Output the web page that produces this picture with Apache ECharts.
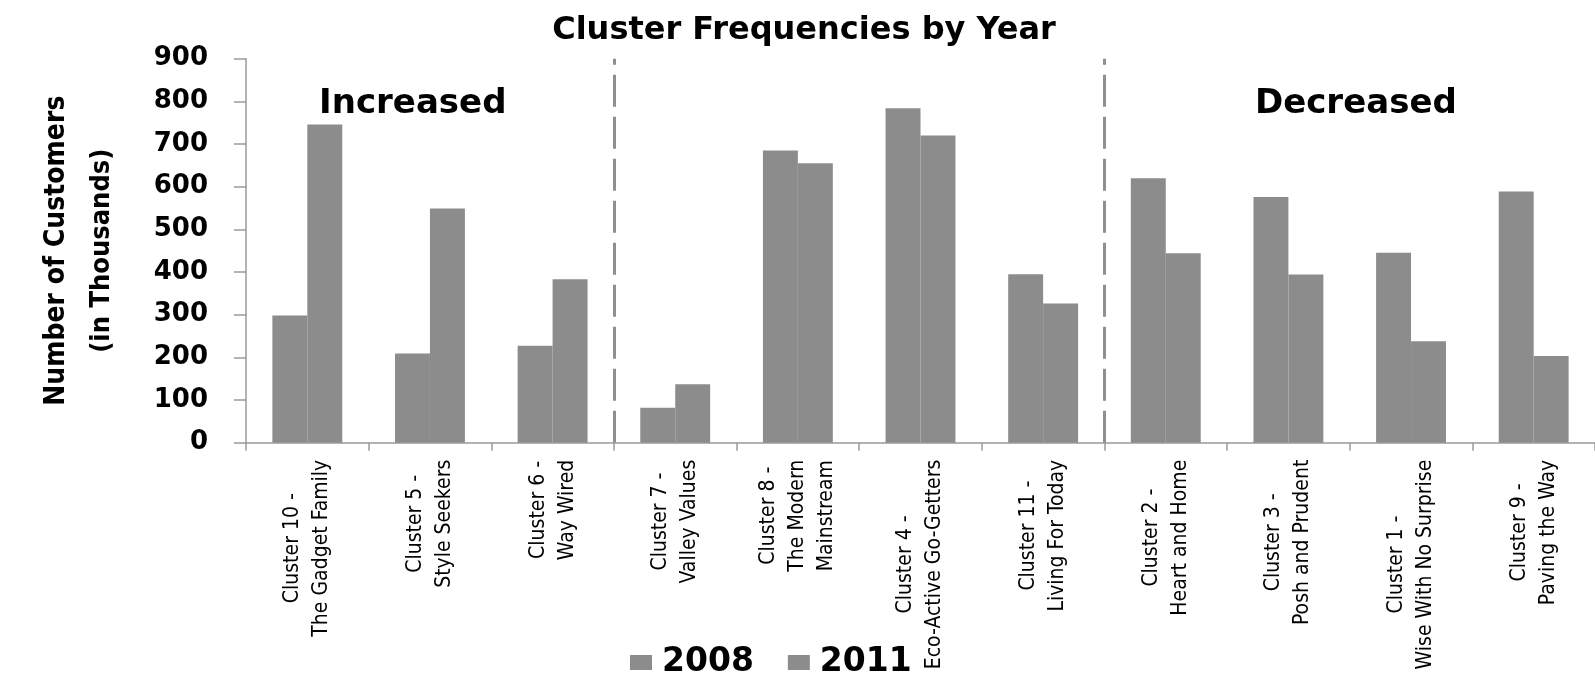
<!DOCTYPE html>
<html>
<head>
<meta charset="utf-8">
<script src="https://cdn.jsdelivr.net/npm/echarts@6/dist/echarts.min.js"></script>
<style>
  html, body { margin: 0; padding: 0; background: #ffffff; }
  #chart { width: 1595px; height: 686px; }
</style>
</head>
<body>
<div id="chart"></div>
<script>
// Customer segments, in the order they appear along the axis
const categories = [
  'Cluster 10 -\nThe Gadget Family',
  'Cluster 5 -\nStyle Seekers',
  'Cluster 6 -\nWay Wired',
  'Cluster 7 -\nValley Values',
  'Cluster 8 -\nThe Modern\nMainstream',
  'Cluster 4 -\nEco-Active Go-Getters',
  'Cluster 11 -\nLiving For Today',
  'Cluster 2 -\nHeart and Home',
  'Cluster 3 -\nPosh and Prudent',
  'Cluster 1 -\nWise With No Surprise',
  'Cluster 9 -\nPaving the Way'
];

// Number of customers (thousands)
const values2008 = [298, 209, 227, 82, 685, 784, 395, 620, 576, 445, 589];
const values2011 = [746, 549, 383, 137, 655, 720, 326, 444, 394, 238, 203];

const seriesNames = ['2008', '2011'];
const yTicks = [0, 100, 200, 300, 400, 500, 600, 700, 800, 900];

// Dashed separators sit on these category boundaries
const groupBreaks = [3, 7];
const groupLabels = ['Increased', 'Decreased'];

const BAR_COLOR = '#8c8c8c';
const AXIS_COLOR = '#9a9a9a';
const BOLD_FONT = "'DejaVu Sans', Verdana, sans-serif";
const NARROW_FONT = "'Liberation Sans Narrow', 'DejaVu Sans Condensed', 'Arial Narrow', sans-serif";

const chart = echarts.init(document.getElementById('chart'), null, { renderer: 'canvas' });

const option = {
  backgroundColor: '#ffffff',
  animation: false,
  title: {
    text: 'Cluster Frequencies by Year',
    left: 799,
    top: 10,
    textAlign: 'center',
    textStyle: { fontFamily: BOLD_FONT, fontWeight: 'bold', fontSize: 32, color: '#000' }
  },
  legend: {
    data: seriesNames,
    left: 625,
    top: 641,
    itemWidth: 22,
    itemHeight: 15,
    itemGap: 34,
    icon: 'rect',
    textStyle: {
      fontFamily: BOLD_FONT, fontWeight: 'bold', fontSize: 33, color: '#000',
      padding: [0, 0, 0, 5]
    }
  },
  grid: { left: 246, top: 58.7, width: 1354, height: 384, containLabel: false },
  xAxis: [
    {
      type: 'category',
      data: categories,
      axisLine: { lineStyle: { color: AXIS_COLOR, width: 1.5 } },
      axisTick: { show: true, alignWithLabel: false, length: 8, lineStyle: { color: AXIS_COLOR, width: 1.5 } },
      axisLabel: {
        interval: 0,
        rotate: 90,
        margin: 17,
        formatter: v => v.split('\n').map(s => '{c|' + s + '}').join('\n'),
        rich: {
          c: { align: 'center', fontFamily: NARROW_FONT, fontSize: 21, lineHeight: 29, color: '#000' }
        }
      }
    },
    {
      // helper value axis spanning the same width, used to place separators and group captions
      type: 'value',
      min: 0,
      max: categories.length,
      show: false
    }
  ],
  yAxis: {
    type: 'value',
    min: yTicks[0],
    max: yTicks[yTicks.length - 1],
    interval: yTicks[1] - yTicks[0],
    name: '{a|Number of Customers}\n{b|(in Thousands)}',
    nameLocation: 'middle',
    nameRotate: 90,
    nameGap: 122,
    nameTextStyle: {
      rich: {
        a: { fontFamily: NARROW_FONT, fontWeight: 'bold', fontSize: 28, lineHeight: 45, color: '#000', align: 'center' },
        b: { fontFamily: NARROW_FONT, fontWeight: 'bold', fontSize: 27, lineHeight: 45, color: '#000', align: 'center' }
      }
    },
    axisLine: { show: true, lineStyle: { color: AXIS_COLOR, width: 1.5 } },
    axisTick: { show: true, length: 12, lineStyle: { color: AXIS_COLOR, width: 1.5 } },
    splitLine: { show: false },
    axisLabel: {
      margin: 38,
      fontFamily: BOLD_FONT,
      fontWeight: 'bold',
      fontSize: 26,
      color: '#000'
    }
  },
  series: [
    {
      name: seriesNames[0],
      type: 'bar',
      data: values2008,
      barGap: '0%',
      barCategoryGap: '43%',
      itemStyle: { color: BAR_COLOR }
    },
    {
      name: seriesNames[1],
      type: 'bar',
      data: values2011,
      barGap: '0%',
      barCategoryGap: '43%',
      itemStyle: { color: BAR_COLOR }
    },
    {
      name: 'groups',
      type: 'line',
      xAxisIndex: 1,
      data: [],
      silent: true,
      markLine: {
        silent: true,
        symbol: 'none',
        label: { show: false },
        lineStyle: { color: '#8f8f8f', width: 3, type: [32, 10] },
        data: groupBreaks.map(b => ({ xAxis: b }))
      },
      markPoint: {
        silent: true,
        symbolSize: 0,
        label: {
          show: true,
          position: 'inside',
          fontFamily: BOLD_FONT,
          fontWeight: 'bold',
          fontSize: 34,
          color: '#000',
          formatter: p => p.name
        },
        data: [
          { name: groupLabels[0], coord: [1.36, 794] },
          { name: groupLabels[1], coord: [9.05, 794] }
        ]
      }
    }
  ]
};

chart.setOption(option);
</script>
</body>
</html>
